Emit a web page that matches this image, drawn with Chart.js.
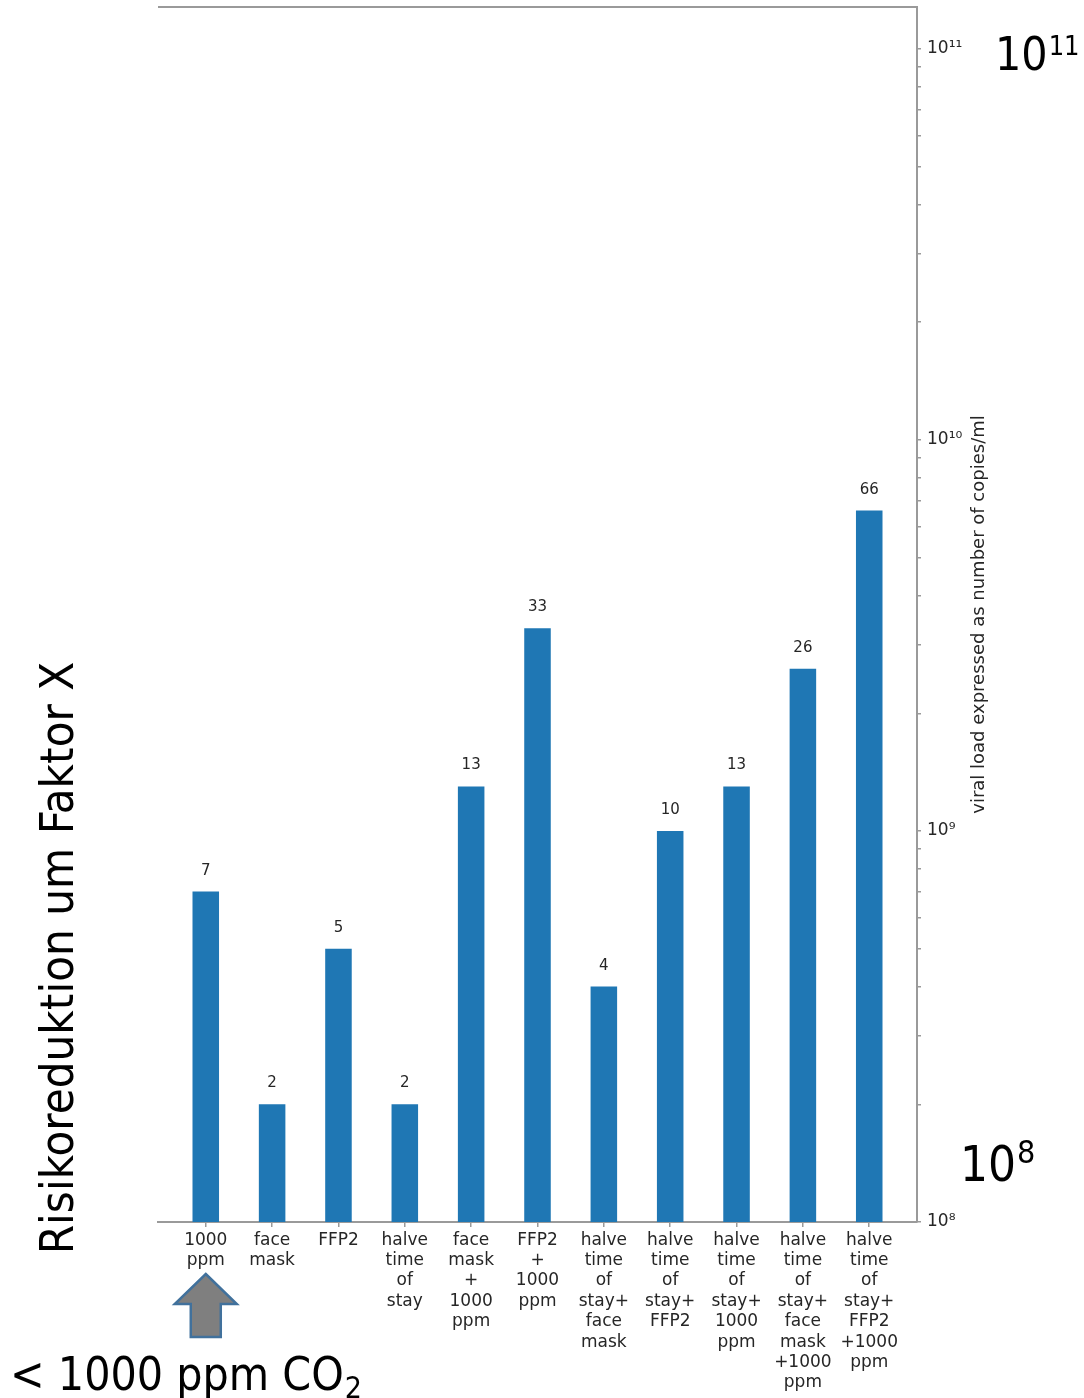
<!DOCTYPE html>
<html>
<head>
<meta charset="utf-8">
<title>Risikoreduktion</title>
<script src="https://cdn.jsdelivr.net/npm/chart.js@4.4.1/dist/chart.umd.min.js"></script>
<style>
  html, body { margin: 0; padding: 0; background: #ffffff; }
  #wrap { width: 1084px; height: 1398px; }
</style>
</head>
<body>
<div id="wrap"><canvas id="c" width="1084" height="1398"></canvas></div>
<script>
// Measures, one category per bar (multi-line tick labels)
const categories = [
  ['1000', 'ppm'],
  ['face', 'mask'],
  ['FFP2'],
  ['halve', 'time', 'of', 'stay'],
  ['face', 'mask', '+', '1000', 'ppm'],
  ['FFP2', '+', '1000', 'ppm'],
  ['halve', 'time', 'of', 'stay+', 'face', 'mask'],
  ['halve', 'time', 'of', 'stay+', 'FFP2'],
  ['halve', 'time', 'of', 'stay+', '1000', 'ppm'],
  ['halve', 'time', 'of', 'stay+', 'face', 'mask', '+1000', 'ppm'],
  ['halve', 'time', 'of', 'stay+', 'FFP2', '+1000', 'ppm']
];

// Risk reduction factor per measure (printed above each bar)
const reductionFactors = [7, 2, 5, 2, 13, 33, 4, 10, 13, 26, 66];

// Viral load unit: a factor of 1 corresponds to 10^8 copies/ml
const referenceLoad = 1e8;

// Logarithmic axis range and labelled decades
const yMin = 1e8;
const yMax = 1.28e11;
const yMajorTicks = [1e8, 1e9, 1e10, 1e11];
const yMajorLabels = ['10⁸', '10⁹', '10¹⁰', '10¹¹'];

const yTitle = 'viral load expressed as number of copies/ml';
const sideTitle = 'Risikoreduktion um Faktor X';
const baselineNote = '< 1000 ppm CO';
const baselineNoteSub = '2';

const barColor = '#1f77b4';
const axisColor = '#9a9a9a';
const textColor = '#262626';
const bigFont = '"DejaVu Sans Condensed", "DejaVu Sans", sans-serif';

const points = reductionFactors.map((f, i) => ({ x: i, y: f * referenceLoad }));

function noEdgePadding(scale) {
  scale.paddingTop = 0;
  scale.paddingBottom = 0;
  scale.paddingLeft = 0;
  scale.paddingRight = 0;
}

const decorations = {
  id: 'decorations',
  afterDatasetsDraw(chart) {
    const ctx = chart.ctx;
    const meta = chart.getDatasetMeta(0);
    ctx.save();
    ctx.fillStyle = textColor;
    ctx.font = '15px "DejaVu Sans", sans-serif';
    ctx.textAlign = 'center';
    ctx.textBaseline = 'alphabetic';
    meta.data.forEach((bar, i) => {
      ctx.fillText(String(reductionFactors[i]), bar.x, bar.y - 17);
    });
    ctx.restore();
  },
  afterDraw(chart) {
    const ctx = chart.ctx;
    const area = chart.chartArea;
    const xs = chart.scales.x;
    ctx.save();

    // top frame line
    ctx.strokeStyle = axisColor;
    ctx.lineWidth = 2;
    ctx.beginPath();
    ctx.moveTo(area.left, area.top);
    ctx.lineTo(area.right + 1, area.top);
    ctx.stroke();

    // right axis title, reading bottom to top
    ctx.fillStyle = textColor;
    ctx.font = '18px "DejaVu Sans", sans-serif';
    ctx.textAlign = 'center';
    ctx.textBaseline = 'middle';
    ctx.translate(979, (area.top + area.bottom) / 2);
    ctx.rotate(-Math.PI / 2);
    ctx.fillText(yTitle, 0, 0);
    ctx.setTransform(1, 0, 0, 1, 0, 0);

    // left side title
    ctx.fillStyle = '#000000';
    ctx.font = '47px ' + bigFont;
    ctx.translate(61, 958);
    ctx.rotate(-Math.PI / 2);
    ctx.fillText(sideTitle, 0, 0);
    ctx.setTransform(1, 0, 0, 1, 0, 0);

    // large decade markers on the right
    ctx.textAlign = 'left';
    ctx.textBaseline = 'alphabetic';
    ctx.font = '46px ' + bigFont;
    ctx.fillText('10', 995, 70);
    const w1 = ctx.measureText('10').width;
    ctx.font = '27px ' + bigFont;
    ctx.fillText('11', 995 + w1 + 1, 55);

    ctx.font = '49px ' + bigFont;
    ctx.fillText('10', 960, 1181);
    const w2 = ctx.measureText('10').width;
    ctx.font = '32px ' + bigFont;
    ctx.fillText('8', 960 + w2 + 1, 1163);

    // baseline note with subscript
    ctx.font = '46px ' + bigFont;
    ctx.fillText(baselineNote, 10, 1390);
    const w3 = ctx.measureText(baselineNote).width;
    ctx.font = '30px ' + bigFont;
    ctx.fillText(baselineNoteSub, 10 + w3 + 1, 1398);

    // block arrow pointing at the first category
    const cx = xs.getPixelForValue(0);
    ctx.beginPath();
    ctx.moveTo(cx, 1274);
    ctx.lineTo(cx + 31, 1304);
    ctx.lineTo(cx + 15, 1304);
    ctx.lineTo(cx + 15, 1337);
    ctx.lineTo(cx - 15, 1337);
    ctx.lineTo(cx - 15, 1304);
    ctx.lineTo(cx - 31, 1304);
    ctx.closePath();
    ctx.fillStyle = '#7f7f7f';
    ctx.fill();
    ctx.strokeStyle = '#41719c';
    ctx.lineWidth = 2.5;
    ctx.stroke();

    ctx.restore();
  }
};

new Chart(document.getElementById('c'), {
  type: 'bar',
  data: {
    datasets: [{
      data: points,
      backgroundColor: barColor,
      borderWidth: 0,
      categoryPercentage: 0.4,
      barPercentage: 1.0
    }]
  },
  options: {
    responsive: false,
    animation: false,
    devicePixelRatio: 1,
    layout: { padding: { left: 158, top: 7, right: 0, bottom: 0 } },
    plugins: {
      legend: { display: false },
      tooltip: { enabled: false }
    },
    scales: {
      x: {
        type: 'linear',
        position: 'bottom',
        offset: false,
        min: -0.72,
        max: 10.72,
        afterBuildTicks(scale) {
          scale.ticks = categories.map((_, i) => ({ value: i }));
        },
        afterFit(scale) { scale.height = 176; noEdgePadding(scale); },
        ticks: {
          autoSkip: false,
          maxRotation: 0,
          minRotation: 0,
          padding: 3,
          color: textColor,
          font: { family: '"DejaVu Sans", sans-serif', size: 17, lineHeight: 1.2 },
          callback: (v) => categories[v] || ''
        },
        grid: {
          display: true,
          offset: false,
          drawOnChartArea: false,
          drawTicks: true,
          tickLength: 5,
          color: axisColor,
          lineWidth: 1.5
        },
        border: { display: true, color: axisColor, width: 2 }
      },
      y: {
        type: 'logarithmic',
        position: 'right',
        min: yMin,
        max: yMax,
        afterBuildTicks(scale) {
          const ticks = [];
          for (let e = 8; e <= 11; e++) {
            for (let m = 1; m <= 9; m++) {
              const v = m * Math.pow(10, e);
              if (v >= yMin && v <= yMax) ticks.push({ value: v, major: m === 1 });
            }
          }
          scale.ticks = ticks;
        },
        afterFit(scale) { scale.width = 167; noEdgePadding(scale); },
        ticks: {
          autoSkip: false,
          padding: 6,
          color: textColor,
          font: { family: '"DejaVu Sans", sans-serif', size: 17 },
          callback: (v) => {
            const k = yMajorTicks.findIndex(t => Math.abs(t - v) / t < 1e-9);
            return k >= 0 ? yMajorLabels[k] : '';
          }
        },
        grid: {
          display: true,
          drawOnChartArea: false,
          drawTicks: true,
          tickLength: 4,
          color: axisColor,
          lineWidth: 1.5
        },
        border: { display: true, color: axisColor, width: 2 }
      }
    }
  },
  plugins: [decorations]
});
</script>
</body>
</html>
